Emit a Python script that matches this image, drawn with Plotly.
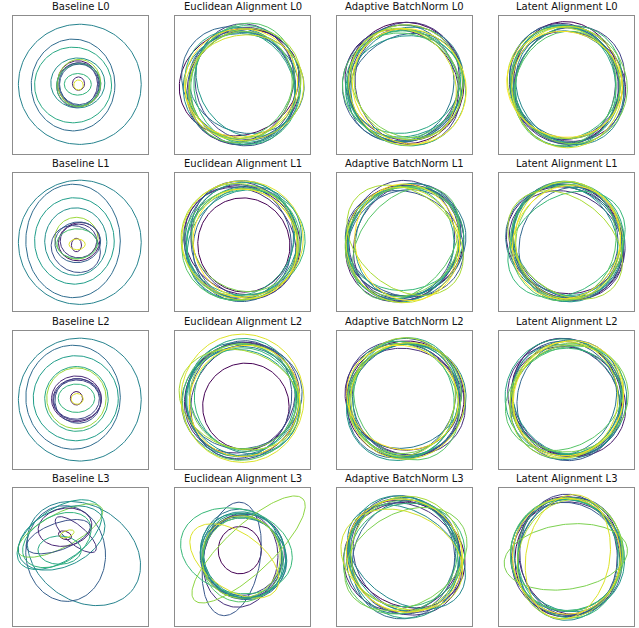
import numpy as np
import plotly.graph_objects as go
from plotly.colors import sample_colorscale

methods = ["Baseline", "Euclidean Alignment", "Adaptive BatchNorm", "Latent Alignment"]
layers = ["L0", "L1", "L2", "L3"]

# each row: (centre x, centre y, semi-axis x, semi-axis y, angle deg, colour value 0..1)
baseline_L0 = [
    (-0.01, 0.01, 0.91, 0.89, 0, 0.45), (-0.11, 0.00, 0.62, 0.68, 0, 0.35),
    (-0.11, 0.00, 0.57, 0.56, 0, 0.60), (-0.04, 0.03, 0.40, 0.37, 0, 0.50),
    (-0.03, 0.02, 0.31, 0.34, 10, 0.05), (-0.05, 0.00, 0.30, 0.33, -15, 0.15),
    (-0.01, 0.01, 0.31, 0.32, 20, 0.25), (-0.02, 0.03, 0.32, 0.35, 0, 0.85),
    (-0.03, 0.00, 0.33, 0.31, 30, 0.70), (-0.04, 0.01, 0.20, 0.16, 0, 0.65),
    (-0.03, 0.02, 0.09, 0.10, 0, 0.10), (-0.03, 0.00, 0.07, 0.075, 0, 0.95),
    (-0.02, 0.01, 0.29, 0.30, 0, 0.30),
]
baseline_L1 = [
    (-0.01, 0.00, 0.91, 0.92, 0, 0.45), (-0.11, 0.02, 0.70, 0.84, 0, 0.35),
    (-0.09, 0.02, 0.59, 0.64, 0, 0.55), (-0.07, 0.01, 0.46, 0.50, 0, 0.50),
    (-0.06, 0.06, 0.32, 0.31, 0, 0.85), (-0.02, 0.01, 0.31, 0.28, 20, 0.05),
    (-0.07, -0.10, 0.38, 0.33, -35, 0.25), (-0.03, 0.02, 0.27, 0.25, 0, 0.15),
    (-0.05, -0.02, 0.30, 0.22, 0, 0.70), (-0.06, -0.04, 0.075, 0.10, 0, 0.10),
    (-0.05, -0.03, 0.12, 0.08, 0, 0.95), (-0.04, 0.00, 0.34, 0.30, 10, 0.30),
]
baseline_L2 = [
    (-0.01, 0.00, 0.91, 0.91, 0, 0.45), (-0.11, 0.035, 0.70, 0.77, 0, 0.35),
    (-0.07, 0.02, 0.63, 0.63, 0, 0.55), (-0.06, 0.01, 0.47, 0.48, 0, 0.60),
    (-0.06, 0.02, 0.44, 0.45, 0, 0.85), (-0.06, 0.01, 0.37, 0.34, 0, 0.10),
    (-0.06, 0.00, 0.34, 0.29, 5, 0.20), (-0.04, -0.02, 0.34, 0.33, -20, 0.25),
    (-0.06, 0.02, 0.27, 0.21, 0, 0.65), (-0.06, 0.02, 0.09, 0.10, 0, 0.05),
    (-0.05, 0.01, 0.09, 0.08, 0, 0.95), (-0.05, 0.00, 0.36, 0.31, 0, 0.15),
]
baseline_L3 = [
    (0.05, 0.05, 0.90, 0.70, -35, 0.45), (-0.22, 0.05, 0.59, 0.71, 5, 0.30),
    (-0.31, 0.33, 0.72, 0.38, 35, 0.55), (-0.30, 0.39, 0.70, 0.25, 28, 0.80),
    (-0.28, 0.28, 0.68, 0.42, 25, 0.50), (-0.33, 0.30, 0.50, 0.20, 20, 0.25),
    (-0.23, 0.44, 0.40, 0.28, 10, 0.10), (-0.07, 0.33, 0.38, 0.14, -40, 0.15),
    (-0.31, 0.10, 0.32, 0.21, 0, 0.60), (-0.23, 0.32, 0.10, 0.06, -20, 0.05),
    (-0.20, 0.34, 0.11, 0.05, 20, 0.90), (-0.35, 0.25, 0.55, 0.35, 30, 0.65),
]
euclid_L0 = [
    (-0.05, 0.04, 0.90, 0.78, 20, 0.00), (0.03, -0.03, 0.80, 0.88, -35, 0.07),
    (-0.03, 0.00, 0.88, 0.76, 60, 0.13), (0.04, 0.05, 0.74, 0.86, 10, 0.20),
    (0.00, -0.05, 0.86, 0.78, -70, 0.27), (-0.06, 0.02, 0.78, 0.90, 45, 0.33),
    (0.06, 0.03, 0.86, 0.74, -15, 0.40), (-0.02, -0.06, 0.82, 0.86, 80, 0.47),
    (0.05, 0.04, 0.70, 0.84, 30, 0.53), (-0.04, -0.02, 0.87, 0.77, -50, 0.60),
    (0.07, 0.00, 0.79, 0.88, 5, 0.67), (0.00, 0.06, 0.88, 0.74, 65, 0.73),
    (-0.03, -0.03, 0.75, 0.84, -25, 0.80), (0.04, 0.02, 0.86, 0.78, 40, 0.87),
    (0.03, -0.04, 0.78, 0.88, -80, 0.93), (-0.02, 0.03, 0.84, 0.80, 15, 1.00),
]
euclid_L1 = [
    (0.02, -0.04, 0.68, 0.70, 20, 0.00), (0.00, 0.03, 0.88, 0.78, -30, 0.07),
    (-0.04, -0.02, 0.78, 0.88, 45, 0.13), (0.03, 0.04, 0.89, 0.76, -60, 0.20),
    (-0.02, 0.00, 0.74, 0.86, 10, 0.27), (0.04, -0.03, 0.86, 0.76, 70, 0.33),
    (-0.05, 0.03, 0.80, 0.89, -15, 0.40), (0.02, 0.01, 0.88, 0.80, 35, 0.47),
    (0.00, -0.04, 0.76, 0.87, -45, 0.53), (-0.03, 0.05, 0.86, 0.78, 60, 0.60),
    (0.05, 0.00, 0.78, 0.88, -80, 0.67), (-0.02, -0.03, 0.89, 0.82, 25, 0.73),
    (0.03, 0.03, 0.80, 0.74, -35, 0.80), (-0.04, 0.01, 0.84, 0.89, 50, 0.87),
    (0.00, 0.05, 0.90, 0.86, 0, 0.95), (0.04, -0.02, 0.82, 0.76, -65, 1.00),
]
euclid_L2 = [
    (0.05, -0.10, 0.64, 0.64, 0, 0.00), (0.00, 0.00, 0.85, 0.84, 30, 0.07),
    (-0.04, 0.03, 0.78, 0.86, -45, 0.13), (0.04, -0.03, 0.88, 0.78, 60, 0.20),
    (-0.03, 0.00, 0.75, 0.88, -15, 0.27), (0.02, 0.04, 0.87, 0.76, 15, 0.33),
    (-0.05, -0.02, 0.80, 0.86, -70, 0.40), (0.03, 0.02, 0.76, 0.88, 45, 0.47),
    (0.00, -0.05, 0.86, 0.77, -30, 0.53), (-0.02, 0.03, 0.88, 0.80, 75, 0.60),
    (0.04, 0.00, 0.78, 0.74, -55, 0.67), (-0.03, -0.04, 0.86, 0.86, 20, 0.73),
    (0.02, 0.05, 0.80, 0.78, -5, 0.80), (-0.04, 0.00, 0.92, 0.72, -20, 0.87),
    (0.00, 0.02, 0.91, 0.95, 0, 0.95), (0.03, -0.02, 0.84, 0.80, 50, 1.00),
]
euclid_L3 = [
    (-0.04, 0.10, 0.32, 0.35, 0, 0.00), (0.00, 0.00, 0.58, 0.62, 20, 0.07),
    (-0.03, -0.05, 0.55, 0.70, -10, 0.13), (0.02, 0.03, 0.62, 0.58, 45, 0.20),
    (-0.16, -0.03, 0.42, 0.85, -10, 0.27), (0.01, -0.02, 0.65, 0.60, -30, 0.33),
    (-0.02, 0.05, 0.60, 0.66, 10, 0.40), (0.04, -0.01, 0.57, 0.63, 60, 0.47),
    (-0.01, 0.01, 0.66, 0.58, -50, 0.53), (0.03, 0.02, 0.60, 0.64, 30, 0.60),
    (-0.09, 0.09, 0.84, 0.62, -15, 0.67), (0.00, -0.04, 0.63, 0.59, 75, 0.73),
    (0.09, 0.11, 1.10, 0.35, 43, 0.83), (-0.02, 0.00, 0.58, 0.61, -5, 0.87),
    (-0.12, -0.06, 0.75, 0.42, -35, 0.95), (0.02, 0.03, 0.61, 0.65, 35, 0.50),
]
adabn_L0 = [
    (0.02, 0.03, 0.86, 0.90, 10, 0.00), (-0.04, 0.00, 0.88, 0.78, -40, 0.07),
    (0.00, 0.04, 0.90, 0.80, 70, 0.13), (0.05, -0.03, 0.76, 0.88, 25, 0.20),
    (-0.03, 0.02, 0.86, 0.90, -60, 0.27), (0.02, -0.04, 0.89, 0.76, 35, 0.33),
    (-0.05, 0.03, 0.78, 0.86, -10, 0.40), (0.04, 0.01, 0.88, 0.80, 50, 0.47),
    (0.00, -0.02, 0.74, 0.88, -75, 0.53), (-0.02, 0.05, 0.86, 0.76, 15, 0.60),
    (0.03, -0.05, 0.89, 0.84, -30, 0.67), (-0.06, -0.01, 0.78, 0.86, 85, 0.73),
    (0.02, 0.03, 0.87, 0.75, -45, 0.80), (0.06, 0.04, 0.80, 0.86, 20, 0.87),
    (-0.03, -0.03, 0.88, 0.78, -65, 0.93), (0.07, -0.02, 0.82, 0.88, 40, 1.00),
]
adabn_L1 = [
    (0.00, 0.03, 0.88, 0.82, 15, 0.00), (-0.03, -0.02, 0.80, 0.90, -40, 0.07),
    (0.04, 0.00, 0.90, 0.76, 60, 0.13), (-0.04, 0.04, 0.78, 0.88, -10, 0.20),
    (0.00, -0.02, 0.76, 0.90, 65, 0.27), (0.02, -0.04, 0.88, 0.80, 30, 0.33),
    (0.03, 0.02, 0.80, 0.89, -70, 0.40), (-0.02, 0.00, 0.89, 0.78, 45, 0.47),
    (0.05, 0.03, 0.76, 0.86, -25, 0.53), (-0.05, -0.03, 0.86, 0.78, 80, 0.60),
    (0.00, 0.05, 0.88, 0.76, 10, 0.67), (0.02, -0.02, 0.94, 0.66, 50, 0.73),
    (-0.03, 0.01, 0.78, 0.88, -55, 0.80), (0.01, 0.03, 0.96, 0.70, -40, 0.87),
    (-0.04, -0.04, 0.82, 0.86, 20, 0.93), (0.04, 0.00, 0.87, 0.77, -75, 1.00),
]
adabn_L2 = [
    (0.01, 0.00, 0.88, 0.86, 40, 0.00), (-0.03, 0.04, 0.86, 0.78, -20, 0.07),
    (0.04, -0.03, 0.77, 0.88, 65, 0.13), (-0.02, 0.02, 0.89, 0.79, -45, 0.20),
    (0.03, 0.03, 0.80, 0.88, 10, 0.27), (-0.04, -0.02, 0.88, 0.76, 55, 0.33),
    (0.00, 0.05, 0.76, 0.86, -70, 0.40), (0.05, 0.00, 0.87, 0.82, 25, 0.47),
    (-0.03, -0.04, 0.80, 0.89, -35, 0.53), (0.02, 0.03, 0.89, 0.78, 80, 0.60),
    (-0.05, 0.00, 0.78, 0.87, 15, 0.67), (0.03, -0.03, 0.90, 0.74, -60, 0.73),
    (0.00, 0.02, 0.86, 0.80, 35, 0.80), (-0.02, 0.04, 0.77, 0.88, -10, 0.87),
    (0.04, -0.02, 0.88, 0.84, 50, 0.93), (-0.03, 0.03, 0.84, 0.76, -25, 1.00),
]
adabn_L3 = [
    (0.03, 0.04, 0.90, 0.76, -30, 0.00), (-0.04, 0.00, 0.87, 0.80, 20, 0.07),
    (0.00, -0.03, 0.78, 0.90, 50, 0.13), (0.04, 0.02, 0.88, 0.76, -55, 0.20),
    (-0.03, 0.03, 0.77, 0.88, 10, 0.27), (0.02, -0.04, 0.89, 0.78, 70, 0.33),
    (-0.05, 0.02, 0.80, 0.87, -20, 0.40), (0.03, 0.00, 0.96, 0.66, -35, 0.47),
    (0.00, 0.05, 0.78, 0.89, 35, 0.53), (-0.02, -0.02, 0.90, 0.80, -70, 0.60),
    (0.04, 0.03, 0.86, 0.76, 15, 0.67), (-0.06, 0.00, 0.80, 0.89, -45, 0.73),
    (0.02, -0.03, 0.97, 0.68, 30, 0.80), (0.03, 0.04, 0.86, 0.82, 80, 0.87),
    (-0.04, -0.04, 0.94, 0.70, -25, 0.93), (0.00, 0.02, 0.82, 0.88, 55, 1.00),
]
latent_L0 = [
    (0.00, 0.04, 0.78, 0.90, 5, 0.00), (0.03, -0.02, 0.86, 0.80, -30, 0.07),
    (-0.04, 0.02, 0.80, 0.90, 15, 0.13), (0.04, 0.03, 0.88, 0.78, 50, 0.20),
    (-0.02, -0.03, 0.74, 0.88, -10, 0.27), (0.02, 0.00, 0.82, 0.90, 25, 0.33),
    (-0.03, 0.05, 0.87, 0.78, -55, 0.40), (0.05, -0.04, 0.76, 0.88, 35, 0.47),
    (0.00, 0.02, 0.88, 0.78, -70, 0.53), (-0.05, -0.02, 0.78, 0.90, 10, 0.60),
    (0.03, 0.04, 0.86, 0.76, 60, 0.67), (-0.02, -0.05, 0.74, 0.86, -20, 0.73),
    (0.04, 0.00, 0.84, 0.89, 40, 0.80), (-0.04, 0.03, 0.86, 0.80, -40, 0.87),
    (0.01, -0.03, 0.82, 0.90, 0, 0.93), (-0.03, 0.01, 0.78, 0.86, 75, 1.00),
]
latent_L1 = [
    (0.02, 0.00, 0.80, 0.88, 30, 0.00), (-0.03, 0.03, 0.87, 0.78, -20, 0.07),
    (0.00, -0.04, 0.76, 0.89, 55, 0.13), (0.04, 0.02, 0.88, 0.79, -50, 0.20),
    (-0.02, 0.04, 0.78, 0.86, 10, 0.27), (0.05, -0.03, 0.86, 0.74, 70, 0.33),
    (-0.04, 0.00, 0.89, 0.80, -35, 0.40), (0.02, 0.03, 0.76, 0.88, 40, 0.47),
    (-0.03, -0.02, 0.88, 0.77, -65, 0.53), (0.03, 0.05, 0.82, 0.84, 20, 0.60),
    (0.00, -0.03, 0.94, 0.70, 35, 0.67), (-0.05, 0.02, 0.78, 0.89, -10, 0.73),
    (0.04, 0.00, 0.86, 0.79, 80, 0.80), (-0.02, -0.04, 0.95, 0.68, -40, 0.87),
    (0.02, 0.03, 0.78, 0.87, 5, 0.93), (0.00, 0.00, 0.86, 0.78, 60, 1.00),
]
latent_L2 = [
    (0.00, 0.03, 0.80, 0.89, 25, 0.00), (0.03, -0.03, 0.88, 0.78, -35, 0.07),
    (-0.04, 0.00, 0.77, 0.87, 50, 0.13), (0.02, 0.04, 0.89, 0.80, -60, 0.20),
    (-0.02, -0.02, 0.80, 0.89, 15, 0.27), (0.04, 0.02, 0.87, 0.76, 70, 0.33),
    (-0.03, 0.03, 0.76, 0.86, -20, 0.40), (0.03, -0.04, 0.89, 0.82, 40, 0.47),
    (0.00, 0.00, 0.86, 0.75, -50, 0.53), (-0.05, 0.04, 0.86, 0.86, 5, 0.60),
    (0.02, -0.02, 0.78, 0.82, 80, 0.67), (-0.03, 0.02, 0.92, 0.72, 30, 0.73),
    (0.04, 0.03, 0.80, 0.88, -75, 0.80), (0.00, -0.03, 0.88, 0.80, 45, 0.87),
    (-0.02, 0.00, 0.78, 0.86, -10, 0.93), (0.03, 0.02, 0.87, 0.80, 60, 1.00),
]
latent_L3 = [
    (0.02, 0.00, 0.78, 0.89, -10, 0.00), (0.04, 0.02, 0.74, 0.88, 15, 0.07),
    (0.00, -0.02, 0.81, 0.84, -25, 0.13), (0.03, 0.03, 0.72, 0.90, 5, 0.20),
    (0.01, -0.03, 0.80, 0.85, 30, 0.27), (0.05, 0.00, 0.76, 0.89, -15, 0.33),
    (-0.01, 0.02, 0.82, 0.83, 20, 0.40), (0.02, -0.04, 0.74, 0.90, -5, 0.47),
    (0.04, 0.02, 0.79, 0.86, 40, 0.53), (0.00, 0.03, 0.83, 0.82, -35, 0.60),
    (0.03, -0.02, 0.75, 0.89, 10, 0.67), (0.01, 0.04, 0.84, 0.84, 25, 0.73),
    (-0.01, 0.00, 0.92, 0.48, 8, 0.80), (0.05, -0.03, 0.76, 0.90, -20, 0.87),
    (0.02, 0.00, 0.62, 0.93, -10, 0.95), (0.00, 0.01, 0.80, 0.86, 0, 1.00),
]

panels = [
    [baseline_L0, euclid_L0, adabn_L0, latent_L0],
    [baseline_L1, euclid_L1, adabn_L1, latent_L1],
    [baseline_L2, euclid_L2, adabn_L2, latent_L2],
    [baseline_L3, euclid_L3, adabn_L3, latent_L3],
]

W, H = 639, 628
BOX_W, BOX_H = 135, 138
COL_LEFT = [13 + 162 * i for i in range(4)]
ROW_TOP = [16 + 157.3 * i for i in range(4)]
YR = BOX_H / BOX_W

fig = go.Figure()
t = np.linspace(0, 2 * np.pi, 160)
annotations = []
for r in range(4):
    for c in range(4):
        k = r * 4 + c + 1
        xa = "x" if k == 1 else f"x{k}"
        ya = "y" if k == 1 else f"y{k}"
        for (cx, cy, rx, ry, ang, cv) in panels[r][c]:
            a = np.deg2rad(ang)
            ex = cx + rx * np.cos(t) * np.cos(a) - ry * np.sin(t) * np.sin(a)
            ey = cy + rx * np.cos(t) * np.sin(a) + ry * np.sin(t) * np.cos(a)
            col = sample_colorscale("Viridis", [cv])[0]
            fig.add_trace(go.Scatter(x=ex, y=ey, mode="lines", xaxis=xa, yaxis=ya,
                                     line=dict(color=col, width=1), hoverinfo="skip",
                                     showlegend=False))
        x0 = COL_LEFT[c] / W
        x1 = (COL_LEFT[c] + BOX_W) / W
        y1 = 1 - ROW_TOP[r] / H
        y0 = 1 - (ROW_TOP[r] + BOX_H) / H
        axis_common = dict(showline=True, mirror=True, linecolor="#8c8c8c", linewidth=1,
                           showgrid=False, zeroline=False, showticklabels=False, ticks="")
        fig.layout[("xaxis" if k == 1 else f"xaxis{k}")] = dict(
            domain=[x0, x1], range=[-1, 1], anchor=ya, **axis_common)
        fig.layout[("yaxis" if k == 1 else f"yaxis{k}")] = dict(
            domain=[y0, y1], range=[-YR, YR], anchor=xa, **axis_common)
        annotations.append(dict(
            text=f"{methods[c]} {layers[r]}", x=(x0 + x1) / 2, y=y1 + 2 / H,
            xref="paper", yref="paper", xanchor="center", yanchor="bottom",
            showarrow=False, font=dict(family="DejaVu Sans", size=10, color="#111111")))

fig.update_layout(width=W, height=H, margin=dict(l=0, r=0, t=0, b=0),
                  paper_bgcolor="white", plot_bgcolor="white",
                  annotations=annotations, showlegend=False)
fig.write_html("out.html", config={"displayModeBar": False},
               post_script="document.body.style.margin='0px';")
